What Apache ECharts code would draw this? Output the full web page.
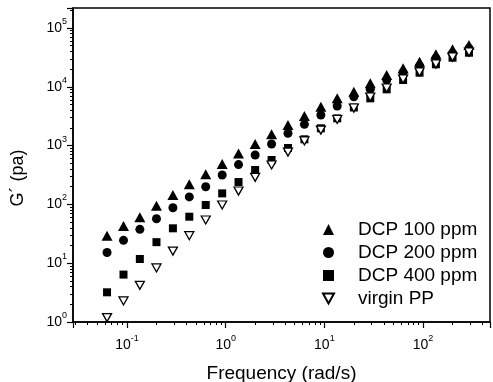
<!DOCTYPE html>
<html>
<head>
<meta charset="utf-8">
<script src="https://cdn.jsdelivr.net/npm/echarts@6/dist/echarts.min.js"></script>
<style>
  html, body { margin: 0; padding: 0; background: #fff; }
  #main { width: 493px; height: 382px; }
</style>
</head>
<body>
<div id="main"></div>
<script>
// frequency (rad/s), 6 points per decade
var freq = [0.0628, 0.0922, 0.135, 0.199, 0.292, 0.428, 0.628, 0.922, 1.35, 1.99, 2.92,
  4.28, 6.28, 9.22, 13.5, 19.9, 29.2, 42.8, 62.8, 92.2, 135, 199, 292];

// G' (pa)
var dcp100 = [29.4, 42.9, 60.3, 95, 145, 220, 325, 486, 734, 1065, 1556,
  2240, 3190, 4590, 6370, 8260, 11470, 15880, 20650, 26730, 35700, 43450, 51400];
var dcp200 = [15.2, 24.5, 37.7, 56.9, 87.9, 134, 200, 316, 475, 692, 1065,
  1620, 2300, 3310, 4710, 6790, 9060, 13050, 17380, 22580, 30540, 37150, 45150];
var dcp400 = [3.2, 6.4, 11.8, 22.8, 39.2, 61.8, 97.7, 154, 240, 385, 569,
  910, 1280, 1970, 2910, 4450, 6370, 9060, 13050, 17380, 24140, 31260, 38020];
var virginPP = [1.19, 2.28, 4.21, 8.3, 16.1, 29.4, 54.3, 97.7, 169, 289, 468,
  778, 1200, 1840, 2780, 4360, 6710, 9550, 13580, 17860, 24430, 32130, 39080];

var seriesNames = ['DCP 100 ppm', 'DCP 200 ppm', 'DCP 400 ppm', 'virgin PP'];

var chart = echarts.init(document.getElementById('main'));

function pairs(ys) {
  return freq.map(function (f, i) { return [f, ys[i]]; });
}

// 10^n labels with superscript
function powLabel(v) {
  var lg = Math.log10(v);
  var e = Math.round(lg);
  if (Math.abs(lg - e) > 1e-6) return '';
  return '{b|10}{s|' + e + '}';
}

var labelRich = {
  b: { fontSize: 14, lineHeight: 22, fontFamily: 'Liberation Sans', color: '#000' },
  s: { fontSize: 9, lineHeight: 10, verticalAlign: 'top', fontFamily: 'Liberation Sans', color: '#000' }
};

var option = {
  backgroundColor: '#fff',
  animation: false,
  grid: {
    left: 73, right: 3, top: 8, bottom: 60,
    outerBoundsMode: 'none',
    show: true,
    borderColor: '#000',
    borderWidth: 1.5
  },
  legend: {
    data: seriesNames,
    orient: 'vertical',
    left: 317,
    top: 215,
    itemWidth: 11,
    itemHeight: 11,
    itemGap: 4,
    selectedMode: false,
    textStyle: { fontSize: 19, fontFamily: 'Liberation Sans', color: '#000', padding: [0, 0, 0, 19] }
  },
  xAxis: {
    type: 'log',
    logBase: 10,
    min: 0.02838,
    max: 477,
    name: 'Frequency (rad/s)',
    nameLocation: 'middle',
    nameGap: 42,
    nameTextStyle: { fontSize: 19, fontFamily: 'Liberation Sans', color: '#000' },
    axisLine: { lineStyle: { color: '#000', width: 1.5 } },
    axisTick: { length: 6, lineStyle: { color: '#000', width: 1.2 } },
    minorTick: { show: true, splitNumber: 9, length: 3, lineStyle: { color: '#000' } },
    splitLine: { show: false },
    axisLabel: { formatter: powLabel, rich: labelRich, margin: 12 }
  },
  yAxis: {
    type: 'log',
    logBase: 10,
    min: 1,
    max: 219000,
    name: 'G\u00b4 (pa)',
    nameLocation: 'middle',
    nameGap: 46,
    nameTextStyle: { fontSize: 18, fontFamily: 'Liberation Sans', color: '#000', padding: [0, 26, 0, 0] },
    axisLine: { lineStyle: { color: '#000', width: 1.5 } },
    axisTick: { length: 6, lineStyle: { color: '#000', width: 1.2 } },
    minorTick: { show: true, splitNumber: 9, length: 3, lineStyle: { color: '#000' } },
    splitLine: { show: false },
    axisLabel: { formatter: powLabel, rich: labelRich, margin: 6 }
  },
  series: [
    {
      name: seriesNames[0], type: 'scatter', symbol: 'triangle', symbolSize: [11, 10],
      itemStyle: { color: '#000', opacity: 1 }, data: pairs(dcp100)
    },
    {
      name: seriesNames[1], type: 'scatter', symbol: 'circle', symbolSize: 9,
      itemStyle: { color: '#000', opacity: 1 }, data: pairs(dcp200)
    },
    {
      name: seriesNames[2], type: 'scatter', symbol: 'rect', symbolSize: 8,
      itemStyle: { color: '#000', opacity: 1 }, data: pairs(dcp400)
    },
    {
      name: seriesNames[3], type: 'scatter', symbol: 'path://M0,0 L10,0 L5,9 Z', symbolSize: [9, 8],
      itemStyle: { color: '#fff', borderColor: '#000', borderWidth: 1.3, opacity: 1 }, data: pairs(virginPP)
    }
  ]
};

chart.setOption(option);
</script>
</body>
</html>
